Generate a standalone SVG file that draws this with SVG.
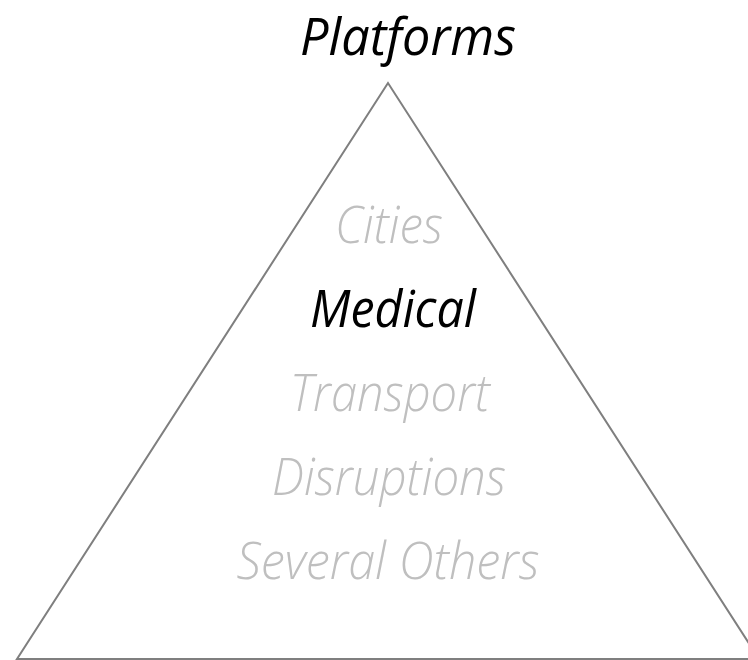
<svg xmlns="http://www.w3.org/2000/svg" width="748" height="660" viewBox="0 0 748 660">
<style>
.t{font-family:"Open Sans","Noto Sans","Liberation Sans",sans-serif;font-style:italic;font-weight:300;text-anchor:middle;font-size:51px}
.g{fill:#BFBFBF}
.k{fill:#000000;font-weight:400}
</style>
<rect width="748" height="660" fill="#ffffff"/>
<g id="pyramid">
<polygon points="388,83 17,659 759,659" fill="none" stroke="#7F7F7F" stroke-width="2"/>
</g>
<g id="title"><text class="t k" x="408" y="55" font-size="62" textLength="216" lengthAdjust="spacingAndGlyphs">Platforms</text></g>
<g id="cities"><text class="t g" x="389" y="243" textLength="108" lengthAdjust="spacingAndGlyphs">Cities</text></g>
<g id="medical"><text class="t k" x="393" y="327" textLength="166" lengthAdjust="spacingAndGlyphs">Medical</text></g>
<g id="transport"><text class="t g" x="390" y="411" textLength="200" lengthAdjust="spacingAndGlyphs">Transport</text></g>
<g id="disruptions"><text class="t g" x="389" y="495" textLength="234" lengthAdjust="spacingAndGlyphs">Disruptions</text></g>
<g id="others"><text class="t g" x="388" y="579" textLength="303" lengthAdjust="spacingAndGlyphs">Several Others</text></g>
</svg>
